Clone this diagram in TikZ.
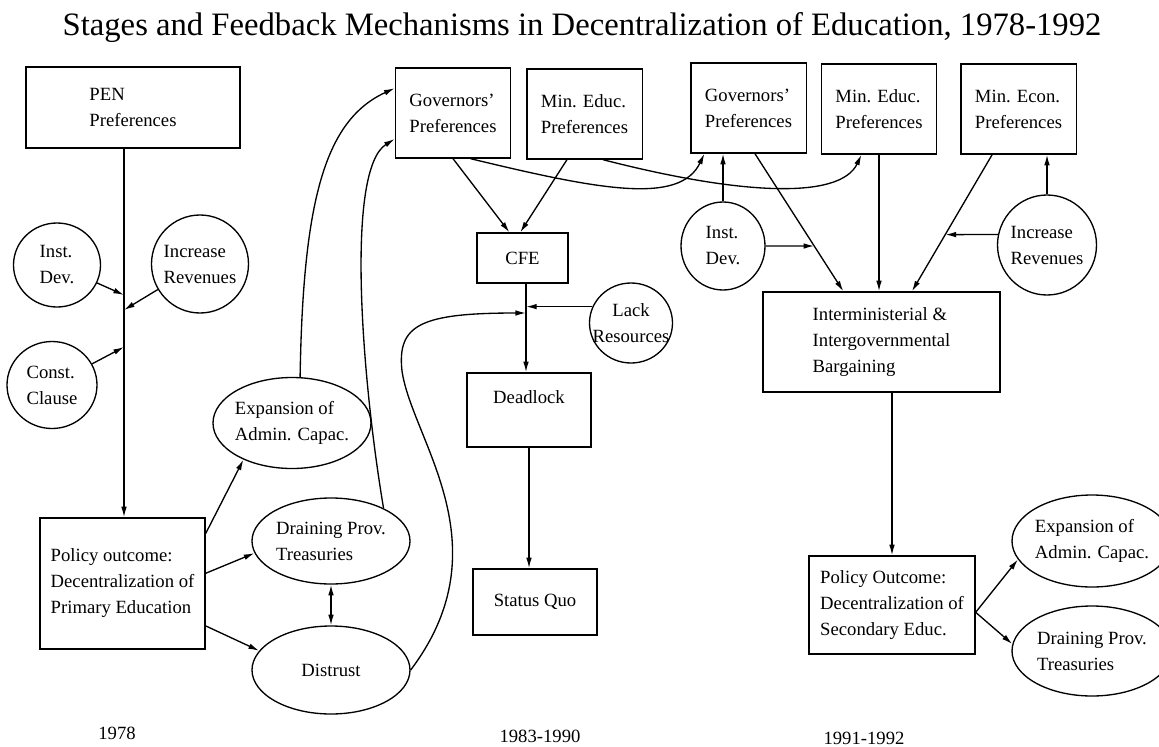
\documentclass[tikz,border=0pt]{standalone}
\usepackage{fontspec}
\setmainfont{Liberation Serif}
\usetikzlibrary{shapes.geometric,arrows.meta}
\tikzstyle{box}=[rectangle,draw=black,align=left,inner sep=0pt]
\tikzstyle{pref}=[box,minimum width=86.5pt,minimum height=67.5pt]
\tikzstyle{oval}=[ellipse,draw=black,align=left,inner xsep=-3pt,inner ysep=0pt]
\tikzstyle{wide}=[oval,minimum width=118.5pt,minimum height=66pt]
\tikzstyle{link}=[-{Latex[length=8pt,width=4.2pt]}]
\tikzstyle{both}=[{Latex[length=8pt,width=4.2pt]}-{Latex[length=8pt,width=4.2pt]}]

\begin{document}
\begin{tikzpicture}[x=0.75pt,y=-0.75pt,line width=1pt,font=\fontsize{14}{19.5}\selectfont]
		\useasboundingbox (0,0) rectangle (1159,746);
		\node [anchor=base west,inner sep=0pt,font=\fontsize{24.5}{28}\selectfont] (title) at (62,35) {Stages and Feedback Mechanisms in Decentralization of Education, 1978-1992};

		\node [box,minimum width=160.5pt,minimum height=60.75pt] (pen) at (133,107.5) {PEN\\Preferences};
		\node [oval,minimum width=65.25pt,minimum height=63pt] (instA) at (57,265) {Inst.\\Dev.};
		\node [oval,minimum width=72.75pt,minimum height=73.5pt] (incA) at (200,264) {Increase\\Revenues};
		\node [oval,minimum width=67.5pt,minimum height=65.25pt] (clause) at (52,385) {Const.\\Clause};
		\node [box,minimum width=123.75pt,minimum height=98.25pt] (policyA) at (122.5,583.5) {Policy outcome:\\Decentralization of\\Primary Education};
		\node [wide,minimum height=68.25pt] (expA) at (292,423) {Expansion of\\Admin. Capac.};
		\node [wide,minimum height=64.5pt] (drainA) at (331,541) {Draining Prov.\\Treasuries};
		\node [wide] (distrust) at (331,670) {Distrust};

		\node [pref] (govB) at (453,113) {Governors'\\Preferences};
		\node [pref] (educB) at (584.5,114) {Min. Educ.\\Preferences};
		\node [box,minimum width=68.25pt,minimum height=37.5pt] (cfe) at (522.5,258) {CFE};
		\node [oval,align=center,inner xsep=-9pt,minimum width=62.25pt,minimum height=60pt] (lack) at (631,323) {Lack\\Resources};
		\node [box,text depth=19.5pt,minimum width=93pt,minimum height=55.5pt] (dead) at (529,410) {Deadlock};
		\node [box,minimum width=93pt,minimum height=49.5pt] (status) at (535,602) {Status Quo};

		\node [pref] (govC) at (748.5,108) {Governors'\\Preferences};
		\node [pref] (educC) at (879,109) {Min. Educ.\\Preferences};
		\node [pref] (econC) at (1018.5,109) {Min. Econ.\\Preferences};
		\node [oval,minimum width=63pt,minimum height=66pt] (instC) at (723,246) {Inst.\\Dev.};
		\node [oval,minimum width=74.25pt,minimum height=75pt] (incC) at (1047,245) {Increase\\Revenues};
		\node [box,minimum width=177.75pt,minimum height=75pt] (barg) at (881.5,342) {Interministerial \&\\Intergovernmental\\Bargaining};
		\node [box,minimum width=124.5pt,minimum height=73.5pt] (policyC) at (892,605) {Policy Outcome:\\Decentralization of\\Secondary Educ.};
		\node [wide,minimum width=120pt,minimum height=69pt] (expC) at (1092,541) {Expansion of\\Admin. Capac.};
		\node [wide,minimum width=120pt,minimum height=67.5pt] (drainC) at (1092,651) {Draining Prov.\\Treasuries};

		\node (yearA) at (117,733) {1978};
		\node (yearB) at (540,736) {1983-1990};
		\node (yearC) at (864,738) {1991-1992};

		\coordinate (jA) at (124,295);
		\coordinate (jB) at (124,310);
		\coordinate (jC) at (124,347);
		\coordinate (mA) at (526,307);
		\coordinate (mB) at (526,313);
		\coordinate (kA) at (intersection of govC.278--barg.127 and instC.east--instC.west);
		\coordinate (kB) at (intersection of econC.240--barg.59 and incC.168--incC.12);

		\draw [link] (pen.south -| jA) -- (policyA.north -| jA);
		\draw [link] (instA) -- (jA);
		\draw [link] (incA) -- (jB);
		\draw [link] (clause) -- (jC);
		\draw [link] (policyA.31) -- (expA.217);
		\draw [link] (policyA.7) -- (drainA.189);
		\draw [link] (policyA.333) -- (distrust.165);
		\draw [both] (drainA.south) -- (distrust.north);
		\draw [link] (expA.80) .. controls (303,200) and (325,120) .. (govB.157);
		\draw [link] (drainA.32) .. controls (362,380) and (345,170) .. (govB.204);

		\draw [link] (govB.south) -- (cfe.117);
		\draw [link] (educB.249) -- (cfe.95);
		\draw [link] (govB.291) .. controls (600,190) and (680,205) .. (govC.226);
		\draw [link] (educB.292) .. controls (740,195) and (840,200) .. (educC.249);
		\draw [link] (cfe.south -| mA) -- (dead.north -| mA);
		\draw [link] (lack.157) -- (lack.157 -| mA);
		\draw [link] (distrust.east) .. controls (505,545) and (412,440) .. (402,371) .. controls (397,325) and (420,313) .. (mB);
		\draw [link] (dead.south) -- (dead.south |- status.north);

		\draw [link] (instC) -- (instC |- govC.south);
		\draw [link] (instC.east) -- (kA);
		\draw [link] (govC.278) -- (barg.127);
		\draw [link] (educC.south) -- (educC.south |- barg.north);
		\draw [link] (econC.240) -- (barg.59);
		\draw [link] (incC) -- (incC |- econC.south);
		\draw [link] (incC.168) -- (kB);
		\draw [link] (barg.south -| policyC) -- (policyC.north);
		\draw [link] (policyC.355) -- (expC.194);
		\draw [link] (policyC.355) -- (drainC.175);
\end{tikzpicture}
\end{document}
